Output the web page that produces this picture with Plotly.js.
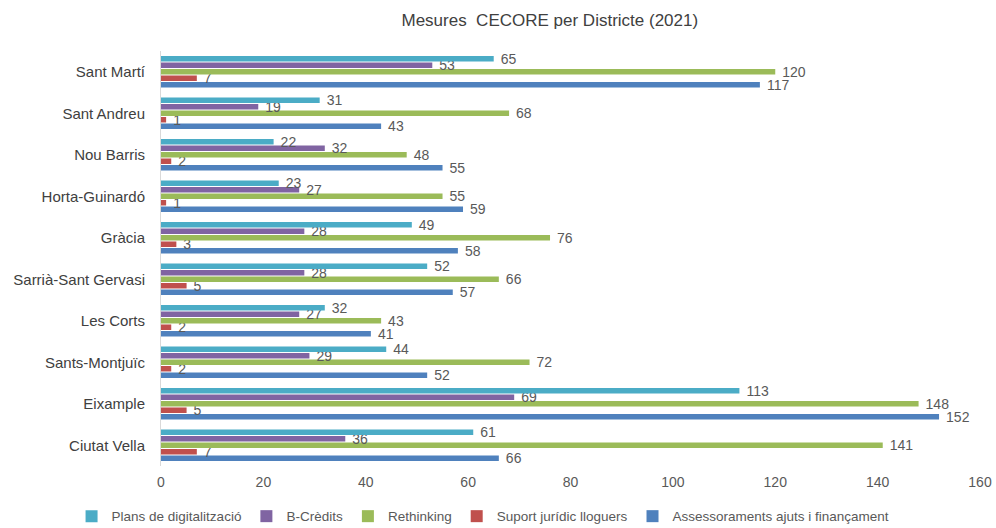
<!DOCTYPE html>
<html>
<head>
<meta charset="utf-8">
<script src="https://cdn.plot.ly/plotly-3.0.1.min.js"></script>
<style>html,body{margin:0;padding:0;background:#fff;}#chart{width:996px;height:528px;}</style>
</head>
<body>
<div id="chart"></div>
<script>
// Categories listed bottom to top
const districts = ["Ciutat Vella","Eixample","Sants-Montjuïc","Les Corts","Sarrià-Sant Gervasi","Gràcia","Horta-Guinardó","Nou Barris","Sant Andreu","Sant Martí"];
const plansDigitalitzacio = [61,113,44,32,52,49,23,22,31,65];
const bCredits = [36,69,29,27,28,28,27,32,19,53];
const rethinking = [141,148,72,43,66,76,55,48,68,120];
const suportJuridic = [7,5,2,2,5,3,1,2,1,7];
const assessoraments = [66,152,52,41,57,58,59,55,43,117];
const xTicks = [0,20,40,60,80,100,120,140,160];

const sans = '"Liberation Sans", Arial, sans-serif';

function tr(name, vals, color) {
  return {
    type: 'bar', orientation: 'h', name: name,
    y: districts, x: vals,
    marker: {color: color},
    text: vals.map(v => '\u2002' + v), textposition: 'outside',
    textfont: {family: sans, size: 14, color: '#595959'},
    constraintext: 'none', cliponaxis: false,
    hoverinfo: 'x+name'
  };
}

const data = [
  tr('Assessoraments ajuts i finançament', assessoraments, '#4F81BD'),
  tr('Suport jurídic lloguers', suportJuridic, '#C0504D'),
  tr('Rethinking', rethinking, '#9BBB59'),
  tr('B-Crèdits', bCredits, '#8064A2'),
  tr('Plans de digitalització', plansDigitalitzacio, '#4BACC6')
];

const layout = {
  width: 996, height: 528,
  margin: {l: 161, r: 16, t: 51, b: 62, autoexpand: false},
  paper_bgcolor: '#fff', plot_bgcolor: '#fff',
  title: {text: 'Mesures  CECORE per Districte (2021)', x: 0.552, xanchor: 'center', y: 0.962, yanchor: 'middle',
          font: {family: sans, size: 17, color: '#404040'}},
  barmode: 'group', bargap: 0.22, bargroupgap: 0.15,
  xaxis: {range: [0, 160], tickvals: xTicks, ticktext: xTicks.map(String), showgrid: false, zeroline: false,
          showline: false, ticks: '', ticklabelstandoff: 6, automargin: false,
          tickfont: {family: sans, size: 14, color: '#595959'}},
  yaxis: {type: 'category', showgrid: false, zeroline: false, showline: true, linecolor: '#d9d9d9', linewidth: 1,
          ticks: '', ticklabelstandoff: 12, automargin: false,
          tickfont: {family: sans, size: 15, color: '#404040'}},
  showlegend: true,
  legend: {orientation: 'h', traceorder: 'reversed', x: 0.485, xanchor: 'center', xref: 'container',
           y: 0.022, yanchor: 'middle', yref: 'container',
           font: {family: sans, size: 13.5, color: '#595959'}, itemwidth: 30, tracegroupgap: 0},
  font: {family: sans}
};

Plotly.newPlot('chart', data, layout, {displayModeBar: false, staticPlot: true});
</script>
</body>
</html>
